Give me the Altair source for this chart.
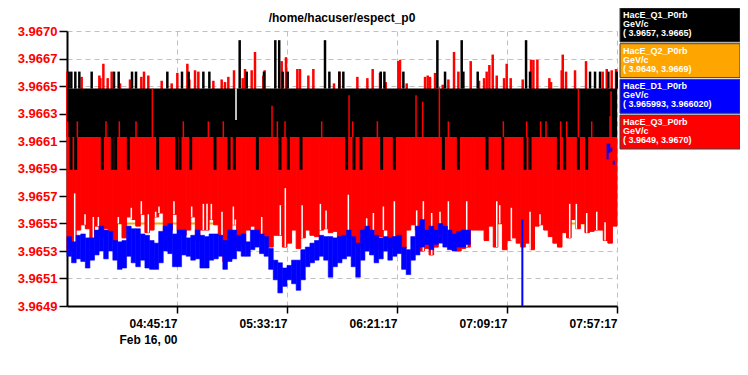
import altair as alt
import pandas as pd

# ---------------- data ----------------
BASE = "2000-02-16 03:57:17"          # left edge of the time axis
SPAN_MIN = 240                       # 4 hours shown
BIN_MIN = 2                          # width of one reading bin (minutes)

X_TICKS = ["2000-02-16 04:45:17", "2000-02-16 05:33:17", "2000-02-16 06:21:17",
           "2000-02-16 07:09:17", "2000-02-16 07:57:17"]
DATE_LABEL = "Feb 16, 00"
Y_TICKS = [3.9649, 3.96511, 3.96532, 3.96553, 3.96574, 3.96595, 3.96616,
           3.96637, 3.96658, 3.96679, 3.9670]
Y_LABELS = ["3.9649", "3.9651", "3.9653", "3.9655", "3.9657", "3.9659", "3.9661",
            "3.9663", "3.9665", "3.9667", "3.9670"]
TITLE = "/home/hacuser/espect_p0"

NAMES = ["HacE_Q1_P0rb", "HacE_Q2_P0rb", "HacE_D1_P0rb", "HacE_Q3_P0rb"]
UNITS = ["GeV/c", "GeV/c", "GeV/c", "GeV/c"]
RANGES = ["( 3.9657,  3.9665)", "( 3.9649,  3.9669)",
          "( 3.965993,  3.966020)", "( 3.9649,  3.9670)"]
COLORS = ["#000000", "#ffa500", "#0000ff", "#ff0000"]

# Q1 (black): main band, upward spikes, downward dips
BLACK_BAND = (3.96619, 3.96656)
BLACK_SPIKE_T = [0.73, 1.89, 3.64, 5.38, 10.77, 20.51, 22.55, 28.37, 30.11, 43.78,
                 50.19, 53.09, 59.50, 62.11, 78.41, 85.97, 94.12, 96.30, 114.48,
                 118.85, 120.59, 136.9, 138.5, 146.78, 164.96, 172.96, 179.21,
                 202.05, 228.24, 230.42, 232.60, 236.24, 239.87,
                 75.35, 90.9, 92.6, 112.59, 161.61, 172.23, 200.31]
BLACK_SPIKE_V = [3.96669] * 33 + [3.96693] * 7
BLACK_DIP_T = [1.75, 3.78, 15.42, 19.78, 21.24, 26.77, 39.57, 47.86, 49.31, 53.97,
               64.59, 70.70, 73.03, 83.06, 92.95, 96.59, 102.12, 122.04, 125.25,
               128.30, 137.32, 142.85, 164.23, 170.78, 183.29, 190.13, 199.87,
               202.05, 214.42, 217.18, 223.15, 226.79]
BLACK_DIP_LOW = 3.96594
BLACK_GAP = [(73.75, 3.96632, 3.96656)]

# Q2 (orange): almost flat, mostly hidden
ORANGE_T = [0, 240]
ORANGE_V = [3.96553, 3.96553]

# Q3 (red): body lower edge per 2-minute bin, body top, spikes
RED_TOP = 3.96619
RED_LO = [3.96532, 3.96535, 3.96548, 3.96552, 3.96549, 3.96542, 3.96551, 3.96543, 3.96549, 3.96547,
          3.96539, 3.96553, 3.96542, 3.96558, 3.96556, 3.96551, 3.96560, 3.96546, 3.96548, 3.96558,
          3.96561, 3.96534, 3.96548, 3.96560, 3.96548, 3.96544, 3.96548, 3.96558, 3.96540, 3.96548,
          3.96548, 3.96556, 3.96552, 3.96544, 3.96524, 3.96547, 3.96552, 3.96535, 3.96538, 3.96548,
          3.96551, 3.96548, 3.96542, 3.96542, 3.96535, 3.96544, 3.96544, 3.96535, 3.96538, 3.96548,
          3.96534, 3.96542, 3.96548, 3.96544, 3.96543, 3.96548, 3.96549, 3.96546, 3.96547, 3.96542,
          3.96544, 3.96548, 3.96542, 3.96535, 3.96543, 3.96535, 3.96542, 3.96533, 3.96543, 3.96548,
          3.96535, 3.96543, 3.96543, 3.96534, 3.96548, 3.96552, 3.96548, 3.96532, 3.96534, 3.96529,
          3.96535, 3.96544, 3.96543, 3.96535, 3.96537, 3.96532, 3.96534, 3.96535, 3.96548, 3.96548,
          3.96548, 3.96540, 3.96551, 3.96535, 3.96553, 3.96533, 3.96540, 3.96542, 3.96538, 3.96535,
          3.96538, 3.96533, 3.96551, 3.96552, 3.96548, 3.96543, 3.96538, 3.96535, 3.96546, 3.96542,
          3.96556, 3.96549, 3.96553, 3.96546, 3.96547, 3.96548, 3.96548, 3.96540, 3.96538, 3.96551]
RED_SPIKES = [(0.15, 3.96669), (6.40, 3.96665), (14.11, 3.96666), (14.55, 3.96664), (15.86, 3.96675),
              (17.75, 3.96664), (19.49, 3.96669), (23.13, 3.96660), (27.49, 3.96663), (32.44, 3.96665),
              (33.60, 3.96669), (35.49, 3.96666), (41.31, 3.96662), (45.68, 3.96660), (48.15, 3.96668),
              (52.51, 3.96675), (53.39, 3.96663), (55.86, 3.96670), (57.31, 3.96669), (63.86, 3.96662),
              (67.50, 3.96663), (68.95, 3.96661), (70.40, 3.96665), (72.88, 3.96670), (76.66, 3.96664),
              (77.68, 3.96671), (80.59, 3.96670), (82.04, 3.96684), (85.68, 3.96666), (86.26, 3.96670),
              (93.68, 3.96677), (95.57, 3.96680), (100.52, 3.96671), (101.68, 3.96671), (105.32, 3.96666),
              (107.50, 3.96671), (116.52, 3.96660), (118.85, 3.96669), (126.70, 3.96665), (131.07, 3.96664),
              (133.39, 3.96671), (136.59, 3.96668), (139.07, 3.96661), (144.59, 3.96677), (145.32, 3.96678),
              (148.23, 3.96660), (156.23, 3.96665), (157.40, 3.96666), (158.41, 3.96665), (160.60, 3.96668),
              (163.94, 3.96659), (166.41, 3.96663), (168.89, 3.96684), (170.78, 3.96669), (176.16, 3.96677),
              (179.80, 3.96662), (181.98, 3.96664), (183.14, 3.96669), (184.30, 3.96674), (185.76, 3.96682),
              (187.51, 3.96666), (190.71, 3.96664), (191.87, 3.96675), (193.62, 3.96664), (198.85, 3.96663),
              (202.49, 3.96678), (203.51, 3.96678), (205.25, 3.96678), (210.49, 3.96664), (211.22, 3.96661),
              (215.87, 3.96670), (216.31, 3.96682), (217.76, 3.96669), (221.69, 3.96670), (226.49, 3.96677),
              (233.77, 3.96669), (235.51, 3.96671), (237.69, 3.96670), (239.58, 3.96671)]
RED_MID = [(37.24, 3.96656), (89.46, 3.96643), (123.06, 3.96651), (152.30, 3.96651),
           (155.21, 3.96646), (162.49, 3.96657), (223.15, 3.96656), (237.40, 3.96654),
           (0.29, 3.96631), (4.51, 3.96631), (17.02, 3.96631), (22.84, 3.96631), (30.11, 3.96631),
           (50.77, 3.96631), (61.68, 3.96631), (68.22, 3.96631), (91.79, 3.96631), (95.14, 3.96631),
           (111.14, 3.96631), (124.66, 3.96631), (135.43, 3.96631), (166.41, 3.96631),
           (190.42, 3.96631), (200.60, 3.96631), (206.71, 3.96631), (209.04, 3.96631),
           (215.44, 3.96631), (218.06, 3.96631), (228.97, 3.96631), (236.97, 3.96635)]
RED_GAPS = [(3.35, 3.96576), (7.86, 3.96560), (11.49, 3.96558), (13.67, 3.96558), (22.40, 3.96558),
            (28.07, 3.96565), (32.44, 3.96570), (35.49, 3.96560), (38.69, 3.96562), (40.15, 3.96566),
            (46.69, 3.96570), (54.40, 3.96566), (59.50, 3.96568), (61.10, 3.96568), (62.99, 3.96568),
            (67.64, 3.96562), (72.59, 3.96566), (73.46, 3.96556), (84.96, 3.96558), (93.09, 3.96567),
            (95.27, 3.96580), (102.6, 3.96567), (110.57, 3.96568), (113.05, 3.96563), (122.77, 3.96575),
            (130.77, 3.96557), (133.68, 3.96561), (138.05, 3.96566), (142.85, 3.96570), (152.59, 3.96563),
            (155.50, 3.96570), (159.14, 3.96561), (162.77, 3.96562), (166.41, 3.96570), (174.41, 3.96570),
            (187.51, 3.96570), (188.82, 3.96567), (193.90, 3.96565), (202.05, 3.96562), (206.42, 3.96560),
            (219.36, 3.96568), (222.27, 3.96568), (226.79, 3.96561), (231.15, 3.96562), (234.78, 3.96554)]

# D1 (blue): per 2-minute bin range
BLUE_HI = [3.96543, 3.96539, 3.96544, 3.96545, 3.96542, 3.96542, 3.96548, 3.96551, 3.96548, 3.96547,
           3.96540, 3.96539, 3.96540, 3.96551, 3.96549, 3.96549, 3.96545, 3.96544, 3.96540, 3.96538,
           3.96547, 3.96551, 3.96553, 3.96545, 3.96548, 3.96548, 3.96542, 3.96544, 3.96548, 3.96544,
           3.96543, 3.96545, 3.96545, 3.96544, 3.96540, 3.96548, 3.96548, 3.96544, 3.96545, 3.96539,
           3.96548, 3.96548, 3.96545, 3.96543, 3.96534, 3.96525, 3.96523, 3.96519, 3.96521, 3.96525,
           3.96525, 3.96533, 3.96535, 3.96538, 3.96540, 3.96544, 3.96543, 3.96543, 3.96542, 3.96543,
           3.96544, 3.96548, 3.96543, 3.96538, 3.96548, 3.96551, 3.96548, 3.96544, 3.96542, 3.96543,
           3.96542, 3.96543, 3.96544, 3.96535, 3.96533, 3.96543, 3.96551, 3.96556, 3.96548, 3.96551,
           3.96548, 3.96553, 3.96551, 3.96548, 3.96545, 3.96547, 3.96548, 3.96548]
BLUE_LO = [3.96528, 3.96523, 3.96526, 3.96524, 3.96519, 3.96525, 3.96529, 3.96532, 3.96526, 3.96532,
           3.96525, 3.96518, 3.96519, 3.96528, 3.96523, 3.96520, 3.96525, 3.96519, 3.96518, 3.96518,
           3.96523, 3.96532, 3.96530, 3.96520, 3.96520, 3.96529, 3.96528, 3.96525, 3.96526, 3.96519,
           3.96519, 3.96525, 3.96526, 3.96528, 3.96518, 3.96524, 3.96526, 3.96532, 3.96528, 3.96528,
           3.96533, 3.96535, 3.96530, 3.96528, 3.96518, 3.96510, 3.96500, 3.96505, 3.96510, 3.96507,
           3.96502, 3.96510, 3.96520, 3.96523, 3.96525, 3.96528, 3.96525, 3.96512, 3.96520, 3.96523,
           3.96526, 3.96528, 3.96520, 3.96512, 3.96525, 3.96532, 3.96529, 3.96523, 3.96526, 3.96532,
           3.96525, 3.96528, 3.96530, 3.96518, 3.96514, 3.96525, 3.96529, 3.96535, 3.96537, 3.96533,
           3.96537, 3.96538, 3.96535, 3.96533, 3.96532, 3.96535, 3.96535, 3.96537]
BLUE_EXTRA = [(198.7, 3.9649, 3.96556), (235.9, 3.96602, 3.96614), (236.6, 3.96607, 3.96614),
              (237.5, 3.96608, 3.96611), (238.6, 3.96598, 3.96601)]

# ---------------- helpers ----------------
base_ts = pd.Timestamp(BASE)


def ts(m):
    return (base_ts + pd.Timedelta(seconds=round(float(m) * 60))).strftime("%Y-%m-%dT%H:%M:%SZ")


def utc_dt(s):
    t = pd.Timestamp(s)
    return alt.DateTime(year=t.year, month=t.month, date=t.day, hours=t.hour,
                        minutes=t.minute, seconds=t.second, utc=True)


def bins_df(lo, hi):
    return pd.DataFrame({"t0": [ts(BIN_MIN * i) for i in range(len(lo))],
                         "t1": [ts(BIN_MIN * (i + 1)) for i in range(len(lo))],
                         "lo": lo, "hi": hi})


def rules_df(ts_list, lo, hi):
    return pd.DataFrame({"t0": [ts(t) for t in ts_list], "lo": lo, "hi": hi})


x_scale = alt.Scale(type="utc", domain=[utc_dt(BASE), utc_dt(str(base_ts + pd.Timedelta(minutes=SPAN_MIN)))])
y_scale = alt.Scale(domain=[Y_TICKS[0], Y_TICKS[-1]], nice=False, zero=False)

x_axis = alt.Axis(values=[utc_dt(s) for s in X_TICKS], title=None,
                  labelExpr=("datum.index == 0 ? [utcFormat(datum.value, '%H:%M:%S'), '" + DATE_LABEL +
                             "'] : utcFormat(datum.value, '%H:%M:%S')"),
                  labelAlign="right", labelBaseline="top", labelFlush=False, labelOverlap=False,
                  labelFontSize=12, labelColor="#000000", labelPadding=5, labelLineHeight=16,
                  tickSize=7)
y_axis = alt.Axis(values=Y_TICKS, title=None,
                  labelExpr="[" + ",".join("'%s'" % s for s in Y_LABELS) + "][round(datum.index * 10)]",
                  labelFontSize=13, labelColor="#ff0000", labelPadding=2, tickSize=8,
                  labelOverlap=False, labelFlush=False)


def X(field="t0"):
    return alt.X(field + ":T", scale=x_scale, axis=x_axis)


def Y(field="lo"):
    return alt.Y(field + ":Q", scale=y_scale, axis=y_axis)


layers = []

# orange (Q2)
orange_df = pd.DataFrame({"t0": [ts(t) for t in ORANGE_T], "lo": ORANGE_V})
layers.append(alt.Chart(orange_df).mark_line(color=COLORS[1], strokeWidth=2).encode(x=X(), y=Y()))

# red body (Q3)
layers.append(alt.Chart(bins_df(RED_LO, [RED_TOP] * len(RED_LO)))
              .mark_rect(color=COLORS[3], stroke=COLORS[3], strokeWidth=1).encode(
    x=X(), x2="t1:T", y=Y(), y2="hi:Q"))
# red spikes
layers.append(alt.Chart(rules_df([s[0] for s in RED_SPIKES], [RED_TOP] * len(RED_SPIKES),
                                 [s[1] for s in RED_SPIKES])).mark_rule(color=COLORS[3], strokeWidth=2.5).encode(
    x=X(), y=Y(), y2="hi:Q"))

# black band (Q1)
band_df = pd.DataFrame({"t0": [ts(0)], "t1": [ts(SPAN_MIN)], "lo": [BLACK_BAND[0]], "hi": [BLACK_BAND[1]]})
layers.append(alt.Chart(band_df).mark_rect(color=COLORS[0]).encode(x=X(), x2="t1:T", y=Y(), y2="hi:Q"))
layers.append(alt.Chart(rules_df(BLACK_SPIKE_T, [BLACK_BAND[1]] * len(BLACK_SPIKE_T), BLACK_SPIKE_V))
              .mark_rule(color=COLORS[0], strokeWidth=2.5).encode(x=X(), y=Y(), y2="hi:Q"))
layers.append(alt.Chart(rules_df(BLACK_DIP_T, [BLACK_DIP_LOW] * len(BLACK_DIP_T), [BLACK_BAND[0]] * len(BLACK_DIP_T)))
              .mark_rule(color=COLORS[0], strokeWidth=3).encode(x=X(), y=Y(), y2="hi:Q"))
layers.append(alt.Chart(rules_df([g[0] for g in BLACK_GAP], [g[1] for g in BLACK_GAP], [g[2] for g in BLACK_GAP]))
              .mark_rule(color="#ffffff", strokeWidth=1.5).encode(x=X(), y=Y(), y2="hi:Q"))

# red lines crossing the black band
layers.append(alt.Chart(rules_df([m[0] for m in RED_MID], [RED_TOP] * len(RED_MID), [m[1] for m in RED_MID]))
              .mark_rule(color=COLORS[3], strokeWidth=1.5).encode(x=X(), y=Y(), y2="hi:Q"))

# white gaps at the bottom of the red body
gap_lo = [RED_LO[min(int(g[0] // BIN_MIN), len(RED_LO) - 1)] for g in RED_GAPS]
layers.append(alt.Chart(rules_df([g[0] for g in RED_GAPS], gap_lo, [g[1] for g in RED_GAPS]))
              .mark_rule(color="#ffffff", strokeWidth=1.5).encode(x=X(), y=Y(), y2="hi:Q"))

# blue (D1)
layers.append(alt.Chart(bins_df(BLUE_LO, BLUE_HI))
              .mark_rect(color=COLORS[2], stroke=COLORS[2], strokeWidth=0.6).encode(
    x=X(), x2="t1:T", y=Y(), y2="hi:Q"))
layers.append(alt.Chart(rules_df([b[0] for b in BLUE_EXTRA], [b[1] for b in BLUE_EXTRA], [b[2] for b in BLUE_EXTRA]))
              .mark_rule(color=COLORS[2], strokeWidth=2).encode(x=X(), y=Y(), y2="hi:Q"))

data_layer = alt.layer(*layers)

# ---------------- legend boxes (own scales, placed right of the plot) ----------------
leg_df = pd.DataFrame({"name": NAMES, "unit": UNITS, "rng": RANGES, "x0": [0.0] * 4, "x1": [1.0] * 4})
ly = alt.Y("name:N", sort=NAMES, axis=None,
           scale=alt.Scale(range=[-23, 118], paddingInner=0.05, paddingOuter=0))
lx = alt.X("x0:Q", axis=None, scale=alt.Scale(domain=[0, 1], range=[553, 673], nice=False, zero=False))
rect = alt.Chart(leg_df).mark_rect(stroke="#404040", strokeWidth=1).encode(
    x=lx, x2="x1:Q", y=ly,
    color=alt.Color("name:N", scale=alt.Scale(domain=NAMES, range=COLORS), legend=None))
txt_kw = dict(align="left", baseline="middle", dx=3, color="#ffffff", font="Liberation Sans",
              fontSize=9, fontWeight="bold")
t1 = alt.Chart(leg_df).mark_text(dy=-10, **txt_kw).encode(x=lx, y=ly, text="name:N")
t2 = alt.Chart(leg_df).mark_text(dy=-1, **txt_kw).encode(x=lx, y=ly, text="unit:N")
t3 = alt.Chart(leg_df).mark_text(dy=8, **txt_kw).encode(x=lx, y=ly, text="rng:N")
legend_layer = alt.layer(rect, t1, t2, t3)

chart = alt.layer(data_layer, legend_layer).resolve_scale(
    x="independent", y="independent", color="independent"
).properties(
    width=550, height=275,
    title=alt.TitleParams(TITLE, font="Liberation Sans", fontSize=12, fontWeight="bold",
                          anchor="middle", frame="group", offset=8, dy=25, color="#000000"),
    autosize=alt.AutoSizeParams(type="none"),
    padding={"left": 59, "top": 23, "right": 123, "bottom": 45},
).configure_view(stroke=None).configure_axis(
    labelFont="Liberation Sans", labelFontWeight="bold",
    domainColor="#000000", domainWidth=2, tickColor="#000000", tickWidth=1.5,
    grid=True, gridColor="#c0c0c0", gridDash=[5, 4], gridWidth=1, zindex=1
)

chart.save("out.html", embed_options={"renderer": "svg", "actions": False})
